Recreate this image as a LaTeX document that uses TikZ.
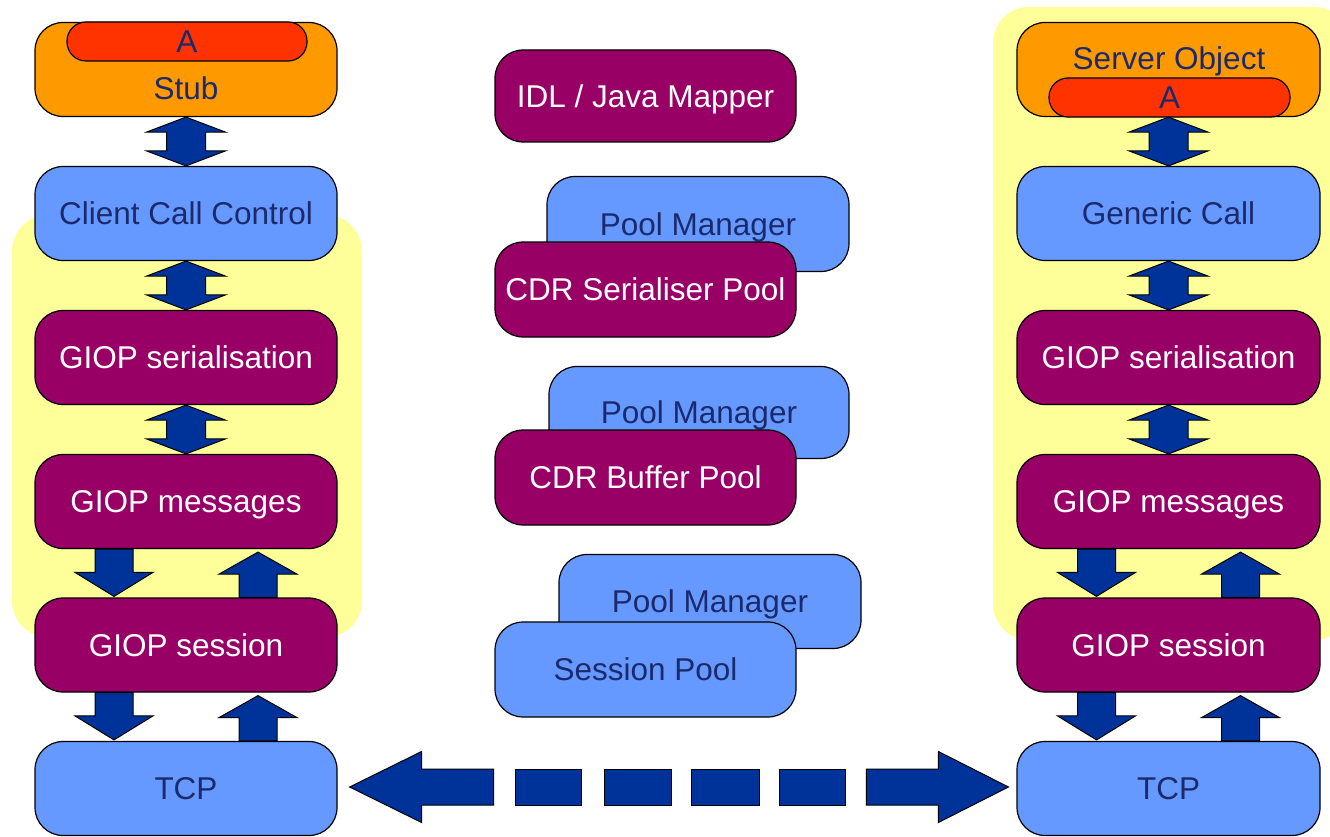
\documentclass[tikz,border=0pt]{standalone}
\usepackage{fontspec}
\setmainfont{Liberation Sans}
\usetikzlibrary{calc}
\definecolor{boxblue}{HTML}{6699FF}
\definecolor{maroon}{HTML}{990066}
\definecolor{orangefill}{HTML}{FF9900}
\definecolor{redfill}{HTML}{FF3300}
\definecolor{bgyellow}{HTML}{FFFF99}
\definecolor{arrowblue}{HTML}{003399}
\definecolor{navytext}{HTML}{1A2A6C}
\tikzset{
  box/.style={draw=black, line width=1.2pt, rounded corners=28pt, minimum width=302pt,
    minimum height=94pt, inner sep=0pt, text height=22.5pt, text depth=0pt,
    font=\fontsize{31.5}{36}\selectfont},
  bluebox/.style={box, fill=boxblue, text=navytext},
  maroonbox/.style={box, fill=maroon, text=white},
  orangebox/.style={box, fill=orangefill},
  pill/.style={draw=black, line width=1.2pt, rounded corners=19pt, fill=redfill,
    minimum width=240pt, minimum height=39pt, inner sep=0pt, text=navytext,
    text height=22.5pt, text depth=0pt, font=\fontsize{31.5}{36}\selectfont},
  lbl/.style={inner sep=0pt, text=navytext, text height=22.5pt, text depth=0pt,
    font=\fontsize{31.5}{36}\selectfont},
  bg/.style={fill=bgyellow, rounded corners=36pt},
  fatarrow/.style={fill=arrowblue, draw=black, line width=1pt, line join=miter}
}
\newcommand{\dblarr}[2]{%
  \draw[fatarrow] (#1.south) -- ($(#1.south)+(39.5,15)$) -- ($(#1.south)+(19.5,15)$)
   -- ($(#2.north)+(19.5,-15)$) -- ($(#2.north)+(39.5,-15)$) -- (#2.north)
   -- ($(#2.north)+(-39.5,-15)$) -- ($(#2.north)+(-19.5,-15)$)
   -- ($(#1.south)+(-19.5,15)$) -- ($(#1.south)+(-39.5,15)$) -- cycle;}
\newcommand{\downarr}[2]{%
  \draw[fatarrow] ($(#1.south)+(-91,0)$) -- ($(#1.south)+(-53,0)$)
   -- ($(#2.north)+(-53,-25)$) -- ($(#2.north)+(-33,-25)$) -- ($(#2.north)+(-72,-1)$)
   -- ($(#2.north)+(-111,-25)$) -- ($(#2.north)+(-91,-25)$) -- cycle;}
\newcommand{\uparr}[2]{%
  \draw[fatarrow] ($(#2.north)+(53,0)$) -- ($(#2.north)+(91,0)$)
   -- ($(#1.south)+(91,25)$) -- ($(#1.south)+(111,25)$) -- ($(#1.south)+(72,3)$)
   -- ($(#1.south)+(33,25)$) -- ($(#1.south)+(53,25)$) -- cycle;}
\begin{document}
\begin{tikzpicture}[x=1pt,y=-1pt]
\clip (0,0) rectangle (1330,837);
\fill[white] (0,0) rectangle (1330,837);
% yellow backgrounds
\fill[bg] (12,215) rectangle (362,637);
\fill[bg] (993,7) rectangle (1350,640);
% left column
\node[orangebox] (stub) at (186,69.5) {};
\node[pill] (stubA) at (187,41.5) {A};
\node[lbl] (stubT) at (186,88) {Stub};
\node[bluebox] (ccc) at (186,213.5) {Client Call Control};
\node[maroonbox] (serL) at (186,357.5) {GIOP serialisation};
\node[maroonbox] (msgL) at (186,501.5) {GIOP messages};
\node[maroonbox] (sessL) at (186,645) {GIOP session};
\node[bluebox] (tcpL) at (186,788.5) {TCP};
% right column
\node[orangebox, minimum width=303pt] (srv) at (1168.5,69.5) {};
\node[lbl] (srvT) at (1169,58) {Server Object};
\node[pill, minimum width=241pt] (srvA) at (1169.5,97.5) {A};
\node[bluebox, minimum width=303pt] (gen) at (1168.5,213.5) {Generic Call};
\node[maroonbox, minimum width=303pt] (serR) at (1168.5,357.5) {GIOP serialisation};
\node[maroonbox, minimum width=303pt] (msgR) at (1168.5,501.5) {GIOP messages};
\node[maroonbox, minimum width=303pt] (sessR) at (1168.5,645) {GIOP session};
\node[bluebox, minimum width=303pt] (tcpR) at (1168.5,788.5) {TCP};
% middle
\node[maroonbox, minimum width=301pt, minimum height=92pt] (idl) at (645.5,96) {IDL / Java Mapper};
\node[bluebox, minimum height=95pt] (pm1) at (698,224) {Pool Manager};
\node[maroonbox, minimum width=301pt, minimum height=95pt] (cdrs) at (645.5,289.5) {CDR Serialiser Pool};
\node[bluebox, minimum width=300pt, minimum height=92pt] (pm2) at (699,412.5) {Pool Manager};
\node[maroonbox, minimum width=301pt, minimum height=95pt] (cdrb) at (645.5,477.5) {CDR Buffer Pool};
\node[bluebox, minimum height=94pt] (pm3) at (710,601.5) {Pool Manager};
\node[bluebox, minimum width=301pt, minimum height=95pt] (sesp) at (645.5,669.5) {Session Pool};
% arrows left
\dblarr{stub}{ccc}
\dblarr{ccc}{serL}
\dblarr{serL}{msgL}
\downarr{msgL}{sessL}
\uparr{msgL}{sessL}
\downarr{sessL}{tcpL}
\uparr{sessL}{tcpL}
% arrows right
\dblarr{srv}{gen}
\dblarr{gen}{serR}
\dblarr{serR}{msgR}
\downarr{msgR}{sessR}
\uparr{msgR}{sessR}
\downarr{sessR}{tcpR}
\uparr{sessR}{tcpR}
% network arrow between TCP nodes
\coordinate (ne) at ($(tcpL.east)+(0,-1.5)$);
\coordinate (nw) at ($(tcpR.west)+(0,-1.5)$);
\draw[fatarrow] ($(ne)+(12,0)$) -- ($(ne)+(84,-35.5)$) -- ($(ne)+(84,-18)$) -- ($(ne)+(156,-18)$)
  -- ($(ne)+(156,18)$) -- ($(ne)+(84,18)$) -- ($(ne)+(84,35.5)$) -- cycle;
\foreach \a/\b in {178/244, 267/334, 354/422, 442/508}
  \draw[fatarrow] ($(ne)+(\a,-18)$) rectangle ($(ne)+(\b,18)$);
\draw[fatarrow] ($(nw)+(-8,0)$) -- ($(nw)+(-78,-35.5)$) -- ($(nw)+(-78,-18)$) -- ($(nw)+(-150,-18)$)
  -- ($(nw)+(-150,18)$) -- ($(nw)+(-78,18)$) -- ($(nw)+(-78,35.5)$) -- cycle;
\end{tikzpicture}
\end{document}
